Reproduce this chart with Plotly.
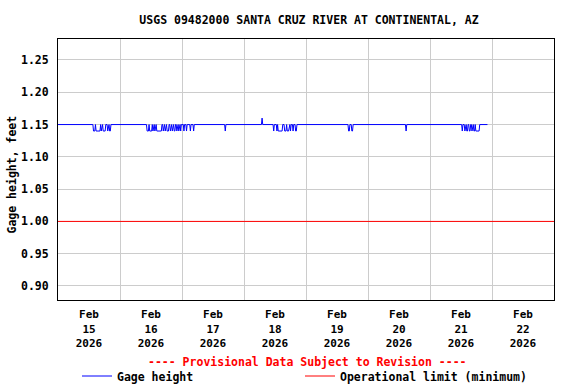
import plotly.graph_objects as go

# ---- data ----
gage_readings = [
    ("2026-02-15 00:00", 1.15), ("2026-02-15 13:30", 1.15), ("2026-02-15 13:45", 1.14),
    ("2026-02-15 14:15", 1.14), ("2026-02-15 14:30", 1.15), ("2026-02-15 14:45", 1.14),
    ("2026-02-15 16:15", 1.14), ("2026-02-15 16:30", 1.15), ("2026-02-15 16:45", 1.14),
    ("2026-02-15 17:00", 1.15), ("2026-02-15 17:15", 1.15), ("2026-02-15 17:30", 1.14),
    ("2026-02-15 18:15", 1.14), ("2026-02-15 18:30", 1.15), ("2026-02-15 19:00", 1.15),
    ("2026-02-15 19:15", 1.14), ("2026-02-15 19:30", 1.15), ("2026-02-15 19:45", 1.15),
    ("2026-02-15 20:00", 1.14), ("2026-02-15 20:15", 1.14), ("2026-02-15 20:30", 1.15),
    ("2026-02-16 10:15", 1.15), ("2026-02-16 10:30", 1.14), ("2026-02-16 11:00", 1.14),
    ("2026-02-16 11:15", 1.15), ("2026-02-16 11:30", 1.14), ("2026-02-16 12:15", 1.14),
    ("2026-02-16 12:30", 1.15), ("2026-02-16 12:45", 1.14), ("2026-02-16 13:00", 1.15),
    ("2026-02-16 13:15", 1.15), ("2026-02-16 13:30", 1.14), ("2026-02-16 13:45", 1.15),
    ("2026-02-16 14:00", 1.15), ("2026-02-16 14:15", 1.14), ("2026-02-16 16:00", 1.14),
    ("2026-02-16 16:15", 1.15), ("2026-02-16 16:30", 1.15), ("2026-02-16 16:45", 1.14),
    ("2026-02-16 17:00", 1.15), ("2026-02-16 17:15", 1.15), ("2026-02-16 17:30", 1.14),
    ("2026-02-16 17:45", 1.15), ("2026-02-16 18:00", 1.15), ("2026-02-16 18:15", 1.14),
    ("2026-02-16 18:45", 1.14), ("2026-02-16 19:00", 1.15), ("2026-02-16 19:15", 1.15),
    ("2026-02-16 19:30", 1.14), ("2026-02-16 19:45", 1.15), ("2026-02-16 20:00", 1.15),
    ("2026-02-16 20:15", 1.14), ("2026-02-16 20:30", 1.15), ("2026-02-16 20:45", 1.15),
    ("2026-02-16 21:00", 1.14), ("2026-02-16 21:15", 1.14), ("2026-02-16 21:30", 1.15),
    ("2026-02-16 21:45", 1.15), ("2026-02-16 22:00", 1.14), ("2026-02-16 22:15", 1.15),
    ("2026-02-16 22:30", 1.15), ("2026-02-16 22:45", 1.14), ("2026-02-16 23:00", 1.15),
    ("2026-02-16 23:15", 1.15), ("2026-02-16 23:30", 1.14), ("2026-02-16 23:45", 1.15),
    ("2026-02-17 00:30", 1.15), ("2026-02-17 00:45", 1.14), ("2026-02-17 01:00", 1.15),
    ("2026-02-17 01:30", 1.15), ("2026-02-17 01:45", 1.14), ("2026-02-17 02:00", 1.15),
    ("2026-02-17 03:00", 1.15), ("2026-02-17 03:15", 1.14), ("2026-02-17 03:30", 1.15),
    ("2026-02-17 04:15", 1.15), ("2026-02-17 04:30", 1.14), ("2026-02-17 04:45", 1.15),
    ("2026-02-17 16:30", 1.15), ("2026-02-17 16:45", 1.14), ("2026-02-17 17:00", 1.15),
    ("2026-02-18 06:45", 1.15), ("2026-02-18 07:00", 1.16), ("2026-02-18 07:15", 1.15),
    ("2026-02-18 11:15", 1.15), ("2026-02-18 11:30", 1.14), ("2026-02-18 11:45", 1.15),
    ("2026-02-18 12:30", 1.15), ("2026-02-18 12:45", 1.14), ("2026-02-18 13:00", 1.15),
    ("2026-02-18 13:15", 1.14), ("2026-02-18 14:45", 1.14), ("2026-02-18 15:00", 1.15),
    ("2026-02-18 15:30", 1.15), ("2026-02-18 15:45", 1.14), ("2026-02-18 16:15", 1.14),
    ("2026-02-18 16:30", 1.15), ("2026-02-18 16:45", 1.14), ("2026-02-18 17:15", 1.14),
    ("2026-02-18 17:30", 1.15), ("2026-02-18 17:45", 1.15), ("2026-02-18 18:00", 1.14),
    ("2026-02-18 18:15", 1.15), ("2026-02-18 18:45", 1.15), ("2026-02-18 19:00", 1.14),
    ("2026-02-18 19:15", 1.15), ("2026-02-18 19:45", 1.15), ("2026-02-18 20:00", 1.14),
    ("2026-02-18 20:15", 1.14), ("2026-02-18 20:30", 1.15),
    ("2026-02-19 16:15", 1.15), ("2026-02-19 16:30", 1.14), ("2026-02-19 16:45", 1.14),
    ("2026-02-19 17:00", 1.15), ("2026-02-19 17:30", 1.15), ("2026-02-19 17:45", 1.14),
    ("2026-02-19 18:00", 1.14), ("2026-02-19 18:15", 1.15),
    ("2026-02-20 14:30", 1.15), ("2026-02-20 14:45", 1.14), ("2026-02-20 15:00", 1.15),
    ("2026-02-21 12:15", 1.15), ("2026-02-21 12:30", 1.14), ("2026-02-21 12:45", 1.15),
    ("2026-02-21 13:15", 1.15), ("2026-02-21 13:30", 1.14), ("2026-02-21 13:45", 1.15),
    ("2026-02-21 14:00", 1.15), ("2026-02-21 14:15", 1.14), ("2026-02-21 14:30", 1.14),
    ("2026-02-21 14:45", 1.15), ("2026-02-21 15:00", 1.15), ("2026-02-21 15:15", 1.14),
    ("2026-02-21 15:30", 1.14), ("2026-02-21 15:45", 1.15), ("2026-02-21 16:00", 1.15),
    ("2026-02-21 16:15", 1.14), ("2026-02-21 16:30", 1.15), ("2026-02-21 16:45", 1.15),
    ("2026-02-21 17:00", 1.14), ("2026-02-21 17:15", 1.14), ("2026-02-21 17:30", 1.15),
    ("2026-02-21 17:45", 1.14), ("2026-02-21 19:00", 1.14), ("2026-02-21 19:15", 1.15),
    ("2026-02-21 22:15", 1.15),
]
gage_times = [t for t, _ in gage_readings]
gage_ft = [v for _, v in gage_readings]

limit_times = ["2026-02-15 00:00", "2026-02-23 00:00"]
limit_ft = [1.00, 1.00]

label_times = ["2026-02-15 12:00", "2026-02-16 12:00", "2026-02-17 12:00", "2026-02-18 12:00",
               "2026-02-19 12:00", "2026-02-20 12:00", "2026-02-21 12:00", "2026-02-22 12:00"]
day_labels = ["Feb<br>15<br>2026", "Feb<br>16<br>2026", "Feb<br>17<br>2026", "Feb<br>18<br>2026",
              "Feb<br>19<br>2026", "Feb<br>20<br>2026", "Feb<br>21<br>2026", "Feb<br>22<br>2026"]
grid_times = ["2026-02-16", "2026-02-17", "2026-02-18", "2026-02-19",
              "2026-02-20", "2026-02-21", "2026-02-22"]
y_ticks = [0.90, 0.95, 1.00, 1.05, 1.10, 1.15, 1.20, 1.25]
y_labels = ["0.90", "0.95", "1.00", "1.05", "1.10", "1.15", "1.20", "1.25"]
x_range = ["2026-02-15 00:00", "2026-02-23 00:00"]
y_range = [0.8783, 1.2825]

title_text = "USGS 09482000 SANTA CRUZ RIVER AT CONTINENTAL, AZ"
y_title = "Gage height, feet"
notice = "---- Provisional Data Subject to Revision ----"

FONT = "DejaVu Sans Mono"
fnt = dict(family=FONT, size=11.5, color="black", weight="bold")

fig = go.Figure()
fig.add_trace(go.Scatter(x=limit_times, y=limit_ft, mode="lines", name="Operational limit (minimum)",
                         line=dict(color="#ff0000", width=1), legend="legend2", hoverinfo="skip"))
fig.add_trace(go.Scatter(x=gage_times, y=gage_ft, mode="lines", name="Gage height",
                         line=dict(color="#0000ff", width=1), legend="legend"))

fig.update_layout(
    width=576, height=384,
    margin=dict(l=58, r=22, t=39, b=84, autoexpand=False),
    paper_bgcolor="white", plot_bgcolor="white",
    font=fnt,
    title=dict(text=title_text, x=309 / 576, xref="container", xanchor="center",
               y=1 - 20 / 384, yref="container", yanchor="middle",
               font=dict(family=FONT, size=11.5, color="black", weight="bold")),
    showlegend=True,
    legend=dict(orientation="h", xref="container", x=77 / 576, xanchor="left",
                yref="container", y=1 - 376 / 384, yanchor="middle",
                font=fnt, bgcolor="rgba(0,0,0,0)", itemwidth=30),
    legend2=dict(orientation="h", xref="container", x=300 / 576, xanchor="left",
                 yref="container", y=1 - 376 / 384, yanchor="middle",
                 font=fnt, bgcolor="rgba(0,0,0,0)", itemwidth=30),
    xaxis=dict(type="date", range=x_range, tickmode="array", tickvals=label_times,
               ticktext=day_labels, showgrid=False, ticks="", zeroline=False, automargin=False,
               showline=True, mirror=True, linecolor="black", linewidth=1,
               ticklabelstandoff=4,
               tickfont=dict(family=FONT, size=11, color="black", weight="bold"),
               minor=dict(tickmode="array", tickvals=grid_times, showgrid=True,
                          gridcolor="#cccccc", gridwidth=1, ticks="")),
    yaxis=dict(range=y_range, tickmode="array", tickvals=y_ticks, ticktext=y_labels,
               showgrid=True, gridcolor="#cccccc", gridwidth=1, ticks="", zeroline=False,
               automargin=False,
               showline=True, mirror=True, linecolor="black", linewidth=1,
               ticklabelstandoff=6,
               tickfont=dict(family=FONT, size=11.5, color="black", weight="bold")),
    annotations=[
        dict(text=y_title, textangle=-90, xref="paper", yref="paper",
             x=(11.5 - 58) / 496, y=(300 - 175) / 261, xanchor="center", yanchor="middle",
             showarrow=False, font=fnt),
        dict(text=notice, xref="paper", yref="paper", x=(307 - 58) / 496, y=(300 - 361.5) / 261,
             xanchor="center", yanchor="middle", showarrow=False,
             font=dict(family=FONT, size=11.5, color="#ff0000", weight="bold")),
    ],
)

fig.write_html("out.html")
